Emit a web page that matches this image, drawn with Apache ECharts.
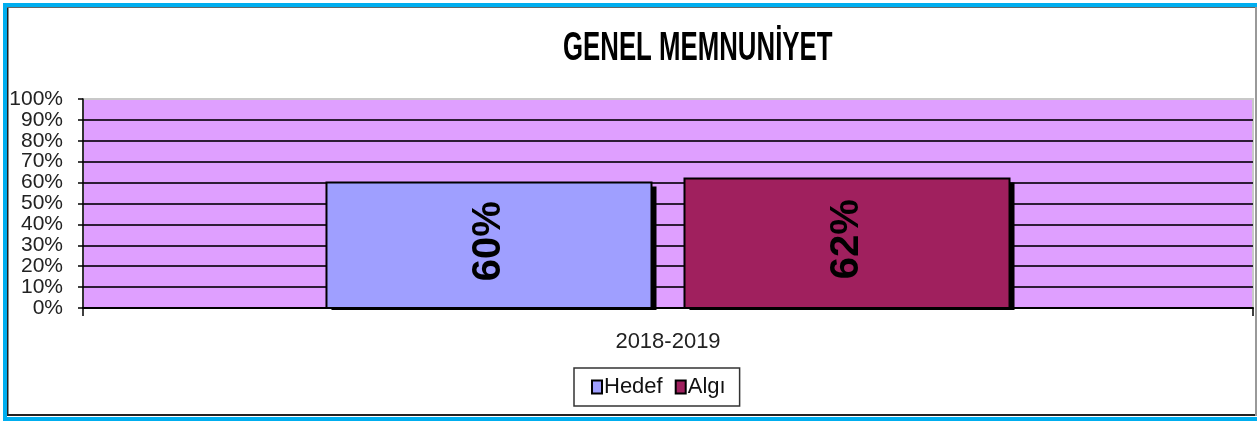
<!DOCTYPE html>
<html>
<head>
<meta charset="utf-8">
<script src="https://cdn.jsdelivr.net/npm/echarts@6/dist/echarts.min.js"></script>
<style>
html,body{margin:0;padding:0;background:#fff;}
#chart{width:1257px;height:421px;}
</style>
</head>
<body>
<div id="chart"></div>
<script>
const titleText = 'GENEL MEMNUNİYET';
const categories = ['2018-2019'];
const seriesNames = ['Hedef', 'Algı'];
const hedefValues = [0.60];
const algiValues = [0.62];
const seriesColors = ['#9F9FFF', '#A0205E'];
const yTicks = [0, 0.1, 0.2, 0.3, 0.4, 0.5, 0.6, 0.7, 0.8, 0.9, 1.0];

const font = '"Liberation Sans", Arial, sans-serif';
const pct = v => Math.round(v * 100) + '%';

const chart = echarts.init(document.getElementById('chart'), null, {renderer: 'canvas'});

// bar layout as fractions of the category band
const BAR_W = 0.2778;
const GAP = 0.0282;

function barSeries(idx, name, values, color) {
  return {
    name: name,
    type: 'custom',
    data: values.map((v, i) => [i, v]),
    encode: {x: 0, y: 1},
    itemStyle: {color: color, borderColor: '#000', borderWidth: 2},
    renderItem: function (params, api) {
      const ci = api.value(0);
      const val = api.value(1);
      const top = api.coord([ci, val]);
      const base = api.coord([ci, 0]);
      const band = api.size([1, 0])[0];
      const w = band * BAR_W;
      const g = band * GAP;
      const x = idx === 0 ? top[0] - g / 2 - w : top[0] + g / 2;
      const y = top[1];
      const h = base[1] - top[1];
      return {
        type: 'group',
        children: [
          {type: 'rect', shape: {x: x + 5, y: y + 4, width: w, height: h - 2}, style: {fill: '#000'}},
          {type: 'rect', shape: {x: x, y: y, width: w, height: h}, style: {fill: color, stroke: '#000', lineWidth: 2}},
          {type: 'text', x: x + w / 2, y: y + h / 2 - 4, rotation: Math.PI / 2,
            style: {text: pct(val), fontFamily: font, fontWeight: 'bold', fontSize: 40, fill: '#000', align: 'center', verticalAlign: 'middle'}}
        ]
      };
    }
  };
}

chart.setOption({
  animation: false,
  backgroundColor: '#fff',
  grid: {
    left: 83, right: 4, top: 99, bottom: 113,
    show: true,
    backgroundColor: '#DF9FFF',
    borderColor: '#c8c8c8',
    borderWidth: 2
  },
  xAxis: {
    type: 'category',
    data: categories,
    axisLine: {lineStyle: {color: '#000', width: 2}},
    axisTick: {show: true, length: 8, lineStyle: {color: '#000', width: 1.5}},
    axisLabel: {fontFamily: font, fontSize: 22, color: '#222', margin: 23}
  },
  yAxis: {
    type: 'value',
    min: yTicks[0],
    max: yTicks[yTicks.length - 1],
    interval: 0.1,
    axisLine: {show: true, lineStyle: {color: '#000', width: 1.5}},
    axisTick: {show: true, length: 5, lineStyle: {color: '#000', width: 1.5}},
    axisLabel: {formatter: v => pct(v), fontFamily: font, fontSize: 21, color: '#222', margin: 20,
      showMinLabel: true, showMaxLabel: true, hideOverlap: false, lineHeight: 18},
    splitLine: {show: true, showMaxLine: false, lineStyle: {color: '#2e1c36', width: 2}}
  },
  legend: {
    data: seriesNames,
    left: 574,
    top: 368,
    orient: 'horizontal',
    padding: [8, 14, 8, 17],
    borderColor: '#333',
    borderWidth: 1.5,
    itemWidth: 10,
    itemHeight: 13,
    itemGap: 12,
    icon: 'rect',
    itemStyle: {borderColor: '#000', borderWidth: 2},
    textStyle: {fontFamily: font, fontSize: 22, color: '#111', padding: [0, 0, 0, -3]}
  },
  series: [
    barSeries(0, seriesNames[0], hedefValues, seriesColors[0]),
    barSeries(1, seriesNames[1], algiValues, seriesColors[1])
  ],
  graphic: [
    {type: 'text', left: 563, top: 29, style: {text: titleText, fontFamily: font, fontWeight: 'bold', fontSize: 40, fill: '#000'}, scaleX: 0.645, originX: 0},
    {type: 'rect', shape: {x: 3, y: 3, width: 1254, height: 4}, style: {fill: '#00AEEF'}, z: 100},
    {type: 'rect', shape: {x: 3, y: 3, width: 4, height: 418}, style: {fill: '#00AEEF'}, z: 100},
    {type: 'rect', shape: {x: 3, y: 417, width: 1254, height: 4}, style: {fill: '#00AEEF'}, z: 100},
    {type: 'rect', shape: {x: 7, y: 7, width: 1.5, height: 409}, style: {fill: '#222'}, z: 100},
    {type: 'rect', shape: {x: 7, y: 7, width: 1248, height: 1}, style: {fill: '#666'}, z: 100},
    {type: 'rect', shape: {x: 7, y: 414, width: 1248, height: 2}, style: {fill: '#222'}, z: 100},
    {type: 'rect', shape: {x: 1255, y: 7, width: 2, height: 409}, style: {fill: '#999'}, z: 100}
  ]
});
</script>
</body>
</html>
